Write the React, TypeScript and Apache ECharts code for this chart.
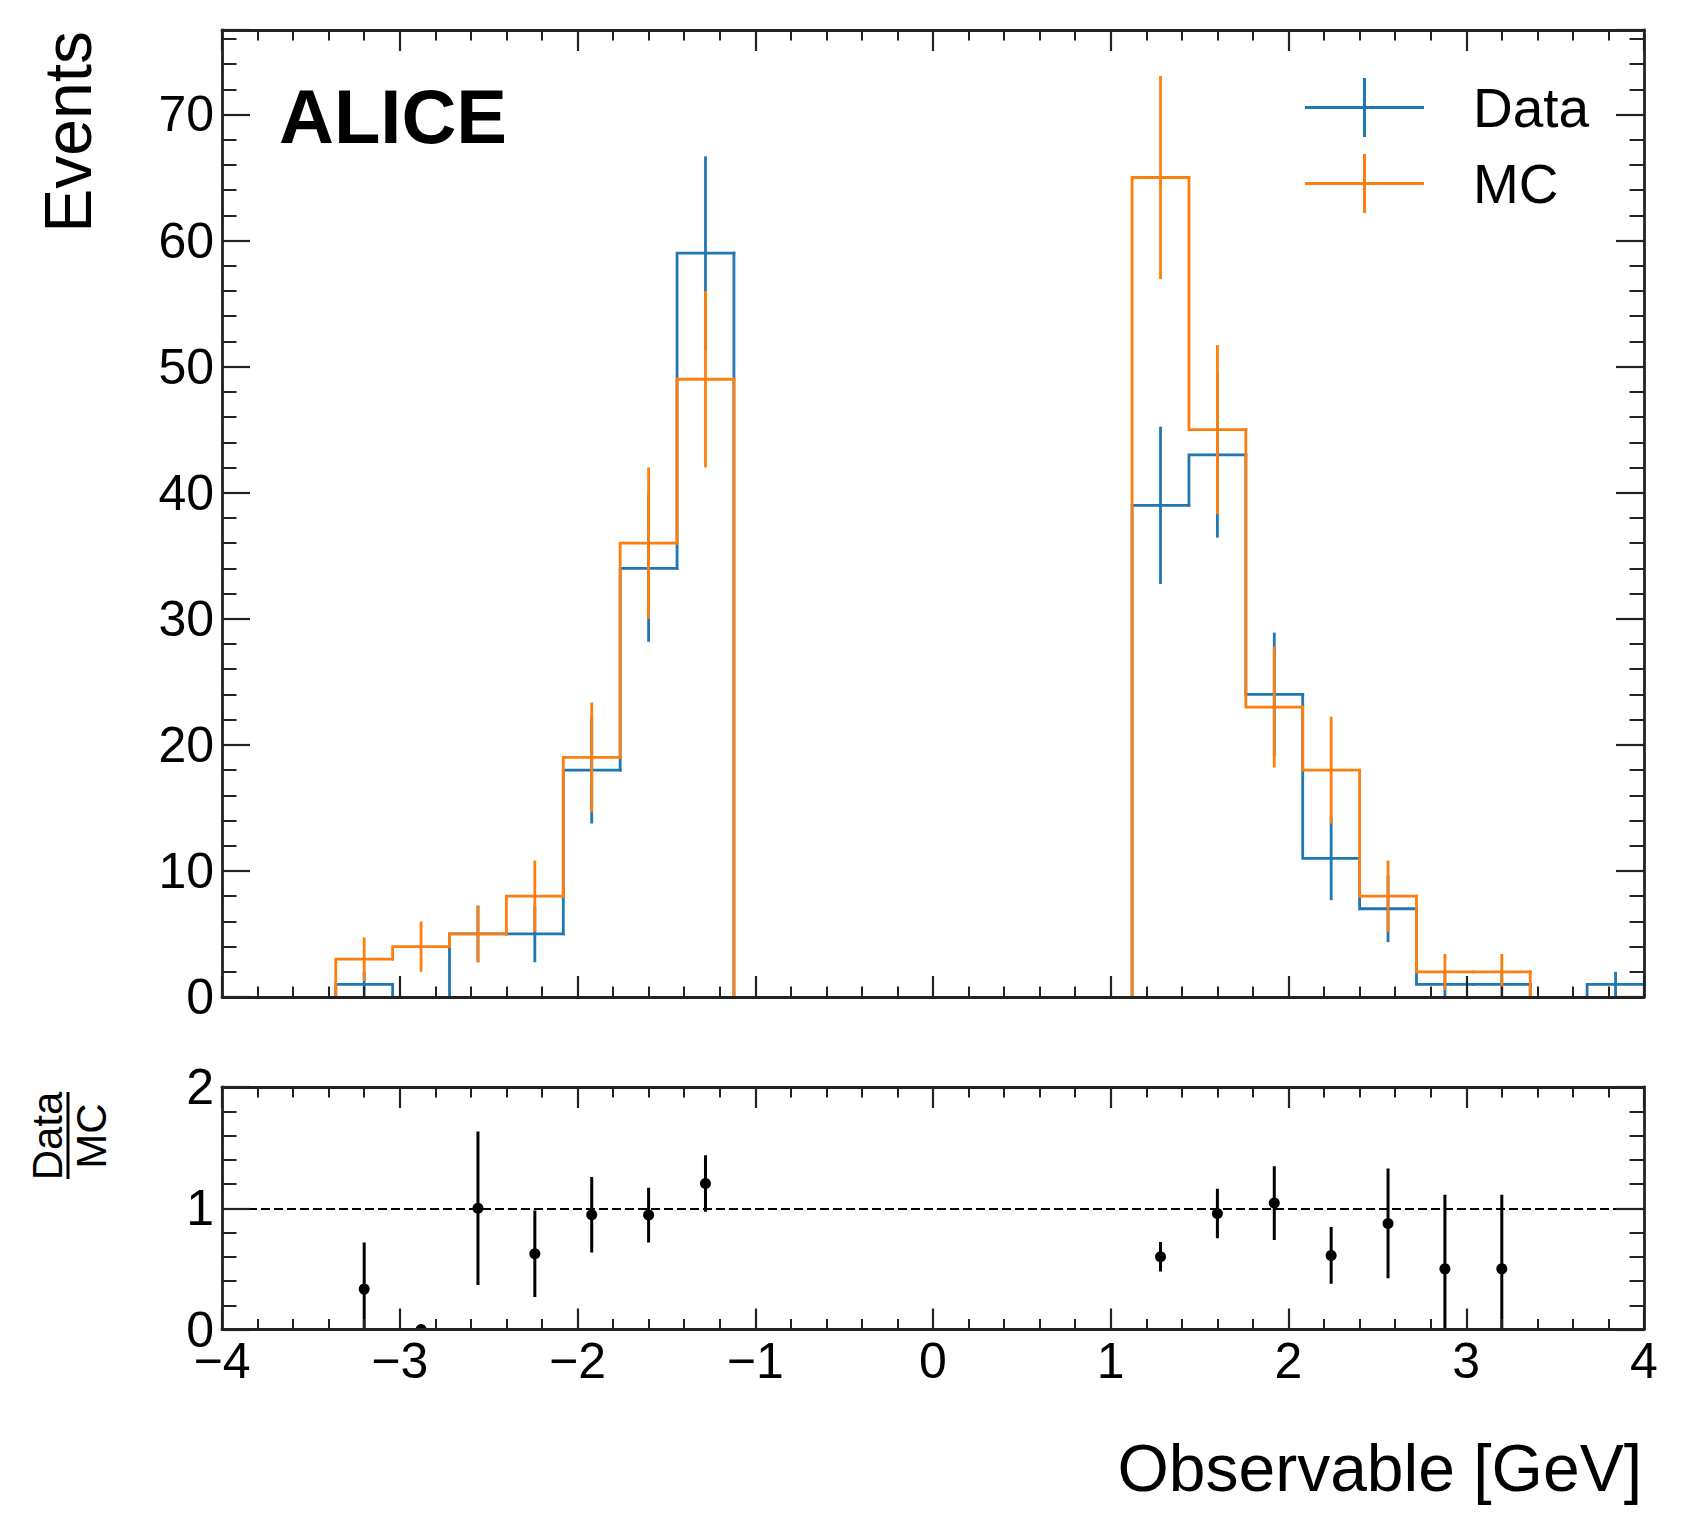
import React, { useEffect, useRef } from "react";
import * as echarts from "echarts";

// ---- data ----
const BIN_EDGES = [-4, -3.68, -3.36, -3.04, -2.72, -2.4, -2.08, -1.76, -1.44, -1.12, -0.8, -0.48, -0.16, 0.16, 0.48, 0.8, 1.12, 1.44, 1.76, 2.08, 2.4, 2.72, 3.04, 3.36, 3.68, 4];
const BIN_CENTERS = [-3.84, -3.52, -3.2, -2.88, -2.56, -2.24, -1.92, -1.6, -1.28, -0.96, -0.64, -0.32, 0, 0.32, 0.64, 0.96, 1.28, 1.6, 1.92, 2.24, 2.56, 2.88, 3.2, 3.52, 3.84];
const DATA_COUNTS = [0, 0, 1, 0, 5, 5, 18, 34, 59, 0, 0, 0, 0, 0, 0, 0, 39, 43, 24, 11, 7, 1, 1, 0, 1];
const DATA_ERRORS = [0, 0, 1, 0, 2.24, 2.24, 4.24, 5.83, 7.68, 0, 0, 0, 0, 0, 0, 0, 6.24, 6.56, 4.9, 3.32, 2.65, 1, 1, 0, 1];
const MC_COUNTS = [0, 0, 3, 4, 5, 8, 19, 36, 49, 0, 0, 0, 0, 0, 0, 0, 65, 45, 23, 18, 8, 2, 2, 0, 0];
const MC_ERRORS = [0, 0, 1.73, 2, 2.24, 2.83, 4.36, 6, 7, 0, 0, 0, 0, 0, 0, 0, 8.06, 6.71, 4.8, 4.24, 2.83, 1.41, 1.41, 0, 0];
const RATIO = [null, null, 0.333, 0, 1, 0.625, 0.947, 0.944, 1.204, null, null, null, null, null, null, null, 0.6, 0.956, 1.043, 0.611, 0.875, 0.5, 0.5, null, null];
const RATIO_ERRORS = [0, 0, 0.385, 0, 0.632, 0.356, 0.311, 0.226, 0.233, 0, 0, 0, 0, 0, 0, 0, 0.122, 0.204, 0.304, 0.234, 0.453, 0.612, 0.612, 0, 0];
const SERIES_NAMES = ["Data", "MC"];
const COLORS = ["#1f77b4", "#ff7f0e"];

const FONT = "'Liberation Sans', Arial, Helvetica, sans-serif";
const AXIS_COLOR = "#222";

const L = 222;
const W = 1422;

// rows: [lowEdge, highEdge, count, previousCount]
function stepRows(counts: number[]) {
  return counts.map((v, i) => [BIN_EDGES[i], BIN_EDGES[i + 1], v, i > 0 ? counts[i - 1] : 0]);
}

function fmt(v: number) {
  if (Math.abs(v - Math.round(v)) > 1e-6) return "";
  return v < 0 ? "\u2212" + Math.abs(Math.round(v)) : String(Math.round(v));
}

function xAxisCfg(gridIndex: number, position: "top" | "bottom", labels: boolean) {
  return {
    type: "value",
    gridIndex,
    position,
    z: 10,
    min: -4,
    max: 4,
    interval: 1,
    axisLine: { show: true, onZero: false, lineStyle: { color: AXIS_COLOR, width: 2.8 } },
    axisTick: { show: true, inside: true, length: 21, lineStyle: { color: AXIS_COLOR, width: 2.2 } },
    minorTick: { show: true, splitNumber: 5, length: 10.5, lineStyle: { color: AXIS_COLOR, width: 2 } },
    splitLine: { show: false },
    minorSplitLine: { show: false },
    axisLabel: {
      show: labels,
      fontSize: 50,
      color: "#000",
      fontFamily: FONT,
      margin: 6,
      formatter: (v: number) => fmt(v),
      showMinLabel: true,
      showMaxLabel: true,
    },
  };
}

function yAxisCfg(gridIndex: number, position: "left" | "right", labels: boolean, max: number, interval: number) {
  return {
    type: "value",
    gridIndex,
    position,
    z: 10,
    min: 0,
    max,
    interval,
    axisLine: { show: true, onZero: false, lineStyle: { color: AXIS_COLOR, width: 2.8 } },
    axisTick: { show: true, inside: true, length: 28, lineStyle: { color: AXIS_COLOR, width: 2.2 } },
    minorTick: { show: true, splitNumber: 5, length: 14.5, lineStyle: { color: AXIS_COLOR, width: 2 } },
    splitLine: { show: false },
    minorSplitLine: { show: false },
    axisLabel: {
      show: labels,
      fontSize: 50,
      color: "#000",
      fontFamily: FONT,
      margin: 8,
      formatter: (v: number) => (Math.abs(v / interval - Math.round(v / interval)) < 1e-6 ? fmt(v) : ""),
    },
  };
}

function stepRender(color: string) {
  return (params: any, api: any) => {
    const lo = api.value(0);
    const hi = api.value(1);
    const v = api.value(2);
    const prev = api.value(3);
    let pts: number[][] = [];
    if (v > 0) {
      pts = [api.coord([lo, prev]), api.coord([lo, v]), api.coord([hi, v])];
    } else if (prev > 0) {
      pts = [api.coord([lo, prev]), api.coord([lo, 0])];
    }
    if (!pts.length) return { type: "group", children: [] };
    return {
      type: "polyline",
      shape: { points: pts },
      style: { stroke: color, lineWidth: 2.8, fill: "none", lineJoin: "miter", lineCap: "square" },
    };
  };
}

function errRender(color: string) {
  return (params: any, api: any) => {
    const x = api.value(0);
    const y = api.value(1);
    const e = api.value(2);
    if (!(y > 0) || !(e > 0)) return { type: "group", children: [] };
    const p1 = api.coord([x, y - e]);
    const p2 = api.coord([x, y + e]);
    const cs = params.coordSys;
    const y1 = Math.min(Math.max(p1[1], cs.y), cs.y + cs.height);
    const y2 = Math.min(Math.max(p2[1], cs.y), cs.y + cs.height);
    return {
      type: "line",
      shape: { x1: p1[0], y1, x2: p2[0], y2 },
      style: { stroke: color, lineWidth: 2.8 },
    };
  };
}

function ratioRender(params: any, api: any) {
  const x = api.value(0);
  const y = api.value(1);
  const e = api.value(2);
  const cs = params.coordSys;
  const c = api.coord([x, y]);
  const p1 = api.coord([x, y - e]);
  const p2 = api.coord([x, y + e]);
  const children: any[] = [];
  if (e > 0) {
    children.push({
      type: "line",
      shape: { x1: p1[0], y1: p1[1], x2: p2[0], y2: p2[1] },
      style: { stroke: "#000", lineWidth: 3 },
    });
  }
  children.push({
    type: "circle",
    shape: { cx: c[0], cy: c[1], r: 5.5 },
    style: { fill: "#000" },
  });
  return {
    type: "group",
    clipPath: { type: "rect", shape: { x: cs.x, y: cs.y, width: cs.width, height: cs.height } },
    children,
  };
}

const ICON = "path://M0,28 L119,28 L119,31 L0,31 Z M58,0 L61,0 L61,59 L58,59 Z";

export default function App() {
  const ref = useRef<HTMLDivElement>(null);
  useEffect(() => {
    if (!ref.current) return;
    const chart = echarts.init(ref.current, undefined, { renderer: "svg" });
    const countsList = [DATA_COUNTS, MC_COUNTS];
    const errList = [DATA_ERRORS, MC_ERRORS];
    const series: any[] = [];
    SERIES_NAMES.forEach((name, k) => {
      series.push({
        name,
        type: "custom",
        xAxisIndex: 0,
        yAxisIndex: 0,
        renderItem: stepRender(COLORS[k]),
        encode: { x: [0, 1], y: 2 },
        data: stepRows(countsList[k]),
        itemStyle: { color: COLORS[k] },
        z: 3 + k * 2,
      });
      series.push({
        name,
        type: "custom",
        xAxisIndex: 0,
        yAxisIndex: 0,
        renderItem: errRender(COLORS[k]),
        encode: { x: 0, y: 1 },
        data: BIN_CENTERS.map((c, i) => [c, countsList[k][i], errList[k][i]]),
        itemStyle: { color: COLORS[k] },
        z: 4 + k * 2,
      });
    });
    const ratioData = BIN_CENTERS.map((c, i) => [c, RATIO[i], RATIO_ERRORS[i]]).filter((d) => d[1] !== null);
    series.push({
      name: "Data/MC",
      type: "custom",
      xAxisIndex: 2,
      yAxisIndex: 2,
      renderItem: ratioRender,
      encode: { x: 0, y: 1 },
      data: ratioData,
      itemStyle: { color: "#000" },
      z: 5,
      markLine: {
        silent: true,
        symbol: "none",
        label: { show: false },
        lineStyle: { color: "#000", width: 2, type: [9, 4] },
        data: [{ yAxis: 1 }],
        animation: false,
      },
    });

    chart.setOption({
      animation: false,
      backgroundColor: "#fff",
      textStyle: { fontFamily: FONT },
      grid: [
        { left: L, top: 30, width: W, height: 967 },
        { left: L, top: 1087, width: W, height: 242.5 },
      ],
      xAxis: [
        xAxisCfg(0, "bottom", false),
        xAxisCfg(0, "top", false),
        xAxisCfg(1, "bottom", true),
        xAxisCfg(1, "top", false),
      ],
      yAxis: [
        yAxisCfg(0, "left", true, 76.7, 10),
        yAxisCfg(0, "right", false, 76.7, 10),
        yAxisCfg(1, "left", true, 2, 1),
        yAxisCfg(1, "right", false, 2, 1),
      ],
      legend: {
        orient: "vertical",
        left: 1305,
        top: 78,
        itemWidth: 119,
        itemHeight: 59,
        itemGap: 17,
        selectedMode: false,
        padding: 0,
        itemStyle: { borderWidth: 0 },
        textStyle: { fontSize: 55, color: "#000", fontFamily: FONT, padding: [0, 0, 0, 44] },
        data: SERIES_NAMES.map((n) => ({ name: n, icon: ICON })),
      },
      graphic: [
        {
          type: "text",
          x: 279,
          y: 116,
          style: { text: "ALICE", fontSize: 76, fontWeight: "bold", fontFamily: FONT, fill: "#000", align: "left", verticalAlign: "middle" },
        },
        {
          type: "text",
          x: 68,
          y: 31,
          rotation: Math.PI / 2,
          style: { text: "Events", fontSize: 66, fontFamily: FONT, fill: "#000", align: "right", verticalAlign: "middle" },
        },
        {
          type: "text",
          x: 1642,
          y: 1468,
          style: { text: "Observable [GeV]", fontSize: 66, fontFamily: FONT, fill: "#000", align: "right", verticalAlign: "middle" },
        },
        {
          type: "text",
          x: 47,
          y: 1136,
          rotation: Math.PI / 2,
          style: { text: "Data", fontSize: 42, fontFamily: FONT, fill: "#000", align: "center", verticalAlign: "middle" },
        },
        {
          type: "line",
          shape: { x1: 68, y1: 1092, x2: 68, y2: 1179 },
          style: { stroke: "#000", lineWidth: 3 },
        },
        {
          type: "text",
          x: 91,
          y: 1136,
          rotation: Math.PI / 2,
          style: { text: "MC", fontSize: 42, fontFamily: FONT, fill: "#000", align: "center", verticalAlign: "middle" },
        },
      ],
      series,
    });
    return () => chart.dispose();
  }, []);
  return <div ref={ref} style={{ position: "absolute", left: 0, top: 0, width: 1688, height: 1535, background: "#fff" }} />;
}
